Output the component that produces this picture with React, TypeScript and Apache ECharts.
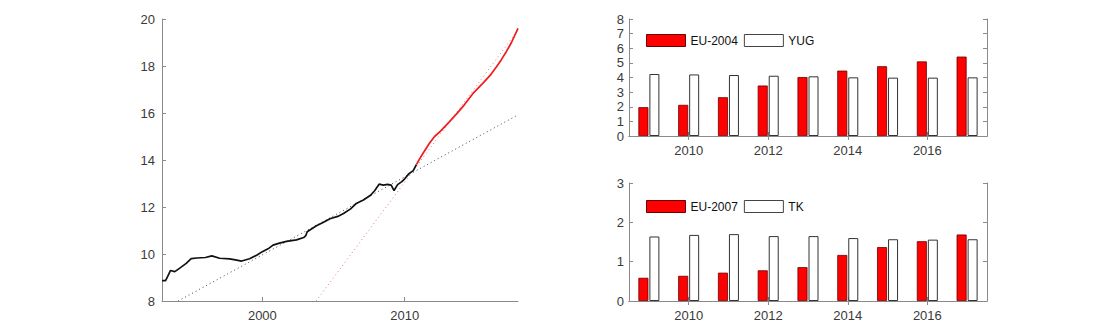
import React, { useEffect, useRef } from "react";
import * as echarts from "echarts";

// Left chart: history (black) and projection (red)
const histYears = [1992.95, 1993.2, 1993.35, 1993.55, 1993.85, 1994.2, 1994.65, 1995.0, 1995.4, 1996.0, 1996.45, 1997.0, 1997.7, 1998.1, 1998.55, 1999.1, 1999.6, 2000.0, 2000.4, 2000.75, 2001.2, 2001.7, 2002.4, 2002.9, 2003.05, 2003.15, 2003.8, 2004.3, 2004.75, 2005.3, 2005.7, 2006.2, 2006.6, 2007.1, 2007.6, 2007.9, 2008.2, 2008.5, 2008.8, 2009.05, 2009.25, 2009.5, 2009.8, 2010.0, 2010.3, 2010.6, 2010.82];
const histValues = [8.87, 8.87, 9.05, 9.3, 9.25, 9.4, 9.6, 9.8, 9.83, 9.85, 9.92, 9.82, 9.79, 9.75, 9.7, 9.8, 9.95, 10.1, 10.22, 10.38, 10.46, 10.54, 10.6, 10.7, 10.78, 10.95, 11.2, 11.35, 11.5, 11.6, 11.72, 11.92, 12.15, 12.3, 12.5, 12.7, 12.97, 12.93, 12.96, 12.93, 12.7, 12.95, 13.08, 13.2, 13.42, 13.55, 13.8];
const projYears = [2010.82, 2011.05, 2011.3, 2011.75, 2012.1, 2012.5, 2013.1, 2013.6, 2014.1, 2014.5, 2014.85, 2015.5, 2016.0, 2016.45, 2016.8, 2017.15, 2017.5, 2017.96];
const projValues = [13.8, 14.05, 14.3, 14.72, 15.0, 15.22, 15.6, 15.93, 16.28, 16.6, 16.87, 17.27, 17.6, 17.97, 18.28, 18.62, 19.0, 19.6];
const trendHistYears = [1994.08, 2017.9];
const trendHistValues = [8.0, 15.9];
const trendProjYears = [2003.78, 2017.98];
const trendProjValues = [8.0, 19.55];
const leftXTicks = [2000, 2010];

// Right charts
const barYears = ["2009", "2010", "2011", "2012", "2013", "2014", "2015", "2016", "2017"];
const eu2004 = [1.97, 2.13, 2.65, 3.45, 4.03, 4.47, 4.77, 5.1, 5.43];
const yug = [4.24, 4.21, 4.17, 4.12, 4.08, 4.01, 3.99, 3.99, 4.01];
const eu2007 = [0.59, 0.64, 0.72, 0.78, 0.86, 1.17, 1.37, 1.52, 1.69];
const tk = [1.64, 1.68, 1.7, 1.65, 1.65, 1.6, 1.57, 1.56, 1.57];

const FONT = "'Liberation Sans', Arial, Helvetica, sans-serif";
const AXIS = "#8a8a8a";
const TEXT = "#3a3a3a";

export default function App() {
  const ref = useRef<HTMLDivElement>(null);
  useEffect(() => {
    if (!ref.current) return;
    const chart = echarts.init(ref.current, undefined, { renderer: "svg" });
    const pair = (xs: number[], ys: number[]) => xs.map((x, i) => [x, ys[i]]);
    const oddIdx = (i: number) => i % 2 === 1;
    const catAxis = (grid: number, pos: "bottom" | "top", labels: boolean) => ({
      type: "category",
      gridIndex: grid,
      position: pos,
      data: barYears,
      boundaryGap: true,
      axisLine: { show: true, lineStyle: { color: AXIS, width: 1 } },
      axisTick: { show: true, inside: true, length: 4, alignWithLabel: true, interval: oddIdx, lineStyle: { color: AXIS } },
      axisLabel: { show: labels, interval: oddIdx, color: TEXT, fontSize: 13, fontFamily: FONT, margin: 8 },
      splitLine: { show: false },
    });
    const valAxis = (grid: number, pos: "left" | "right", max: number, labels: boolean) => ({
      type: "value",
      gridIndex: grid,
      position: pos,
      min: 0,
      max,
      interval: 1,
      axisLine: { show: true, lineStyle: { color: AXIS, width: 1 } },
      axisTick: { show: true, inside: true, length: 4, lineStyle: { color: AXIS } },
      axisLabel: { show: labels, color: TEXT, fontSize: 13, fontFamily: FONT, margin: 5 },
      splitLine: { show: false },
    });
    const barSeries = (name: string, data: number[], x: number, y: number, red: boolean) => ({
      type: "bar",
      name,
      data,
      xAxisIndex: x,
      yAxisIndex: y,
      barWidth: 10,
      barGap: "10%",
      itemStyle: red
        ? { color: "#ff0000", borderColor: "#6a0000", borderWidth: 0.8 }
        : { color: "#ffffff", borderColor: "#333333", borderWidth: 1 },
    });
    const legend = (top: number, names: string[]) => ({
      left: 646,
      top,
      orient: "horizontal",
      padding: 0,
      itemWidth: 39,
      itemHeight: 12,
      itemGap: 6,
      icon: "rect",
      textStyle: { color: "#111", fontSize: 12, fontFamily: FONT },
      data: [
        { name: names[0], itemStyle: { color: "#ff0000", borderColor: "#6a0000", borderWidth: 1 } },
        { name: names[1], itemStyle: { color: "#ffffff", borderColor: "#444", borderWidth: 1 } },
      ],
    });

    chart.setOption({
      animation: false,
      backgroundColor: "#ffffff",
      grid: [
        { left: 162, right: 592, top: 19, bottom: 25 },
        { left: 629, right: 123, top: 19, bottom: 190 },
        { left: 629, right: 123, top: 183, bottom: 25 },
      ],
      legend: [legend(34, ["EU-2004", "YUG"]), legend(200, ["EU-2007", "TK"])],
      xAxis: [
        {
          type: "value",
          gridIndex: 0,
          min: 1992.95,
          max: 2017.96,
          axisLine: { show: true, onZero: false, lineStyle: { color: AXIS, width: 1 } },
          axisTick: { show: true, inside: true, length: 4, customValues: leftXTicks, lineStyle: { color: AXIS } },
          axisLabel: { show: true, customValues: leftXTicks, color: TEXT, fontSize: 13, fontFamily: FONT, margin: 8, formatter: (v: number) => String(v) },
          splitLine: { show: false },
        },
        catAxis(1, "bottom", true),
        catAxis(1, "top", false),
        catAxis(2, "bottom", true),
        catAxis(2, "top", false),
      ],
      yAxis: [
        {
          type: "value",
          gridIndex: 0,
          min: 8,
          max: 20,
          interval: 2,
          axisLine: { show: true, onZero: false, lineStyle: { color: AXIS, width: 1 } },
          axisTick: { show: true, inside: true, length: 4, lineStyle: { color: AXIS } },
          axisLabel: { color: TEXT, fontSize: 13, fontFamily: FONT, margin: 7 },
          splitLine: { show: false },
        },
        valAxis(1, "left", 8, true),
        valAxis(1, "right", 8, false),
        valAxis(2, "left", 3, true),
        valAxis(2, "right", 3, false),
      ],
      series: [
        {
          type: "line",
          name: "trendHist",
          xAxisIndex: 0,
          yAxisIndex: 0,
          data: pair(trendHistYears, trendHistValues),
          showSymbol: false,
          lineStyle: { color: "#444", width: 1, type: [1, 3] },
        },
        {
          type: "line",
          name: "trendProj",
          xAxisIndex: 0,
          yAxisIndex: 0,
          data: pair(trendProjYears, trendProjValues),
          showSymbol: false,
          lineStyle: { color: "#e07a7a", width: 1, type: [1, 3] },
        },
        {
          type: "line",
          name: "hist",
          xAxisIndex: 0,
          yAxisIndex: 0,
          data: pair(histYears, histValues),
          showSymbol: false,
          lineStyle: { color: "#111", width: 1.7 },
        },
        {
          type: "line",
          name: "proj",
          xAxisIndex: 0,
          yAxisIndex: 0,
          data: pair(projYears, projValues),
          showSymbol: false,
          lineStyle: { color: "#ee1c1c", width: 1.7 },
        },
        barSeries("EU-2004", eu2004, 1, 1, true),
        barSeries("YUG", yug, 1, 1, false),
        barSeries("EU-2007", eu2007, 3, 3, true),
        barSeries("TK", tk, 3, 3, false),
      ],
    });
    return () => chart.dispose();
  }, []);
  return (
    <div
      ref={ref}
      style={{ position: "absolute", left: 0, top: 0, width: 1110, height: 326 }}
    />
  );
}
